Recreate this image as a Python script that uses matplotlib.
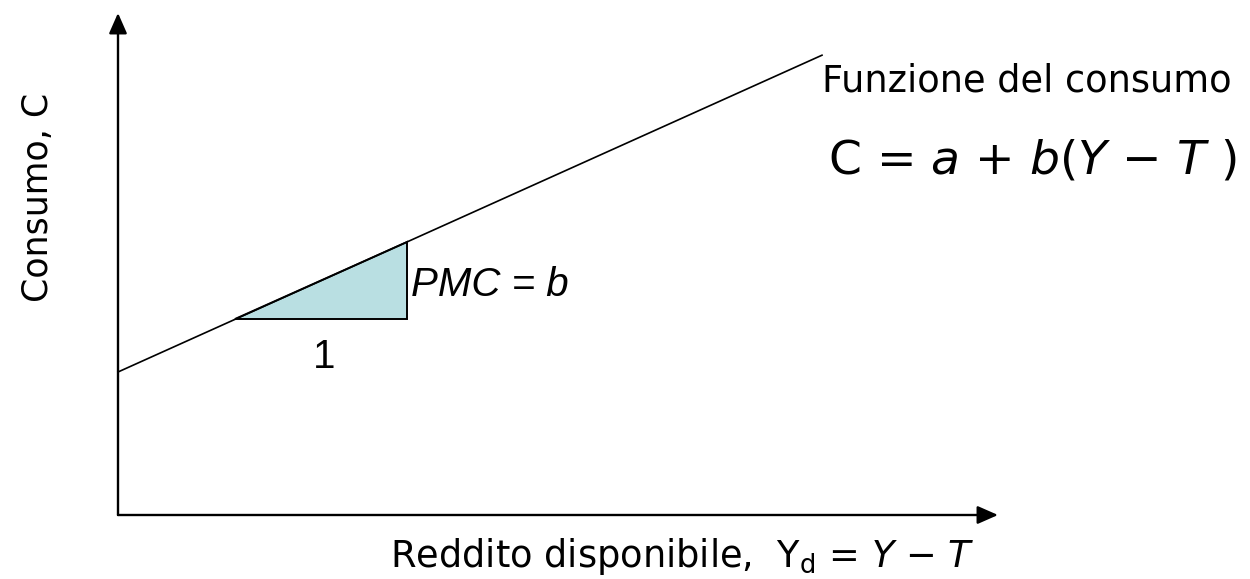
import matplotlib
matplotlib.use('Agg')
import matplotlib.pyplot as plt
from matplotlib.patches import Polygon

plt.rcParams['mathtext.fontset'] = 'custom'
plt.rcParams['mathtext.rm'] = 'DejaVu Sans'
plt.rcParams['mathtext.it'] = 'DejaVu Sans:italic'

# consumption function C = a + b(Y - T)
a = 1.43
b = 0.45
line_x = [0.0, 7.04]
# triangle showing the slope (PMC)
tri_x = [1.17, 2.89]
x_max = 8.8
y_max = 5.0

fig = plt.figure(figsize=(12.5, 5.79), dpi=100)
ax = fig.add_axes([0, 0, 1, 1])
ax.set_xlim(-1.18, 11.32)
ax.set_ylim(-0.64, 5.15)
ax.axis('off')

# axes with arrow heads
arrow = dict(arrowstyle='-|>,head_length=1.25,head_width=0.55', lw=1.7,
             color='black', shrinkA=0, shrinkB=0)
ax.annotate('', xy=(x_max, 0), xytext=(0, 0), arrowprops=arrow)
ax.annotate('', xy=(0, y_max + 0.02), xytext=(0, 0), arrowprops=arrow)

# slope triangle
y1 = a + b * tri_x[0]
y2 = a + b * tri_x[1]
tri = Polygon([(tri_x[0], y1), (tri_x[1], y1), (tri_x[1], y2)],
              closed=True, facecolor='#b9dfe2', edgecolor='black', lw=1.4)
ax.add_patch(tri)

# consumption line
ax.plot(line_x, [a + b * x for x in line_x], color='black', lw=1.2)

ax.text(7.04, 4.23, 'Funzione del consumo', fontsize=26.5,
        family='DejaVu Sans', va='baseline', ha='left')
ax.text(7.10, 3.41,
        r'C = $\mathit{a}$ + $\mathit{b(Y}$ − $\mathit{T\ )}$',
        fontsize=34, family='DejaVu Sans', va='baseline', ha='left')

ax.text(2.93, 2.30, 'PMC = b', fontsize=29, style='italic',
        family='Liberation Sans', va='center', ha='left')
ax.text((tri_x[0] + tri_x[1]) / 2 + 0.03, 1.77, '1', fontsize=29,
        family='Liberation Sans', va='top', ha='center')

ax.text(-0.80, 3.18, 'Consumo, C', fontsize=25, rotation=90,
        family='DejaVu Sans', va='center', ha='center')
ax.text(2.72, -0.52,
        r'Reddito disponibile,  Y$_\mathrm{d}$ = $\mathit{Y}$ − $\mathit{T}$',
        fontsize=26.5, family='DejaVu Sans', va='baseline', ha='left')

fig.savefig('out.png', dpi=100)
